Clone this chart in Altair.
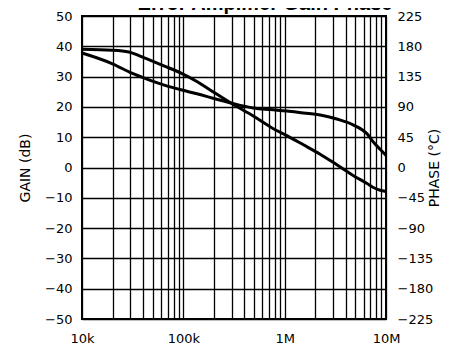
import altair as alt
import pandas as pd

# ---- data ----
gain_freq = [10e3, 20e3, 29e3, 36e3, 45e3, 66e3, 97e3, 136e3, 184e3, 300e3,
             490e3, 774e3, 1.05e6, 1.53e6, 2.24e6, 3.27e6, 4.78e6, 6.5e6, 7.5e6,
             8.75e6, 10e6]
gain_db = [39.0, 38.7, 38.1, 37.0, 35.7, 33.4, 31.0, 28.4, 25.6, 21.1,
           17.0, 12.8, 10.5, 7.5, 4.4, 0.9, -2.7, -5.3, -6.6, -7.5, -7.9]

phase_freq = [10e3, 20e3, 31e3, 45e3, 66e3, 97e3, 136e3, 200e3, 300e3,
              490e3, 720e3, 1.05e6, 1.53e6, 2.24e6, 3.27e6, 4.78e6, 6.5e6, 7.5e6,
              8.75e6, 10e6]
phase_deg = [170, 154, 140, 130.5, 122, 115, 109.5, 102.5, 95.5,
             88.5, 86, 84, 81, 78, 72, 63, 50, 38, 27, 18]

decade_values = [1e4, 1e5, 1e6, 1e7]
decade_labels = ["10k", "100k", "1M", "10M"]
gain_ticks = list(range(-50, 51, 10))
phase_ticks = list(range(-225, 226, 45))
title_text = "Error Amplifier Gain Phase"

grid_x = [m * 10 ** e for e in (4, 5, 6) for m in range(1, 10)] + [1e7]

gain_df = pd.DataFrame({"f": gain_freq, "gain": gain_db})
phase_df = pd.DataFrame({"f": phase_freq, "phase": phase_deg})

FONT = "DejaVu Sans"

x_expr = " : ".join(
    f"datum.value == {v:.0f} ? '{l}'" for v, l in zip(decade_values, decade_labels)
) + " : ''"

x_scale = alt.Scale(type="log", domain=[1e4, 1e7], nice=False)
x_axis = alt.Axis(values=grid_x, labelExpr=x_expr, grid=True, gridColor="black",
                  gridWidth=1.3, gridOpacity=1, ticks=False, domain=False,
                  labelFont=FONT, labelFontSize=13, labelColor="black",
                  labelPadding=13, labelFlush=False, labelOverlap=False, title=None)

gain_line = alt.Chart(gain_df).mark_line(color="black", strokeWidth=3,
                                          interpolate="monotone").encode(
    x=alt.X("f:Q", scale=x_scale, axis=x_axis),
    y=alt.Y("gain:Q", scale=alt.Scale(domain=[-50, 50], nice=False, zero=False),
            axis=alt.Axis(orient="left", values=gain_ticks, grid=True,
                          gridColor="black", gridWidth=1.3, gridOpacity=1,
                          ticks=False, domain=False, labelFont=FONT,
                          labelFontSize=13, labelColor="black", labelPadding=10,
                          labelFlush=False,
                          title="GAIN (dB)", titleFont=FONT, titleFontSize=14,
                          titleFontWeight="normal", titleColor="black",
                          titlePadding=12)),
)

phase_line = alt.Chart(phase_df).mark_line(color="black", strokeWidth=3,
                                            interpolate="monotone").encode(
    x=alt.X("f:Q", scale=x_scale),
    y=alt.Y("phase:Q", scale=alt.Scale(domain=[-225, 225], nice=False, zero=False),
            axis=alt.Axis(orient="right", values=phase_ticks, grid=False,
                          ticks=False, domain=False, labelFont=FONT,
                          labelFontSize=13, labelColor="black", labelPadding=11,
                          labelFlush=False,
                          title="PHASE (\u00b0C)", titleFont=FONT, titleFontSize=14,
                          titleFontWeight="normal", titleColor="black",
                          titleAngle=270, titlePadding=9)),
)

title = alt.Chart(pd.DataFrame({"t": [title_text]})).mark_text(
    font="Liberation Sans", fontSize=20, fontWeight="bold", color="black",
    align="center", baseline="alphabetic").encode(
    text="t:N", x=alt.value(183), y=alt.value(-6))

chart = alt.layer(gain_line, phase_line, title).resolve_scale(y="independent").properties(
    width=304, height=303,
    autosize=alt.AutoSizeParams(type="none"),
    padding={"left": 74, "top": 8, "right": 66, "bottom": 27},
    background="white",
).configure_view(stroke="black", strokeWidth=2)

chart.save("out.html", embed_options={"renderer": "svg", "actions": False})
